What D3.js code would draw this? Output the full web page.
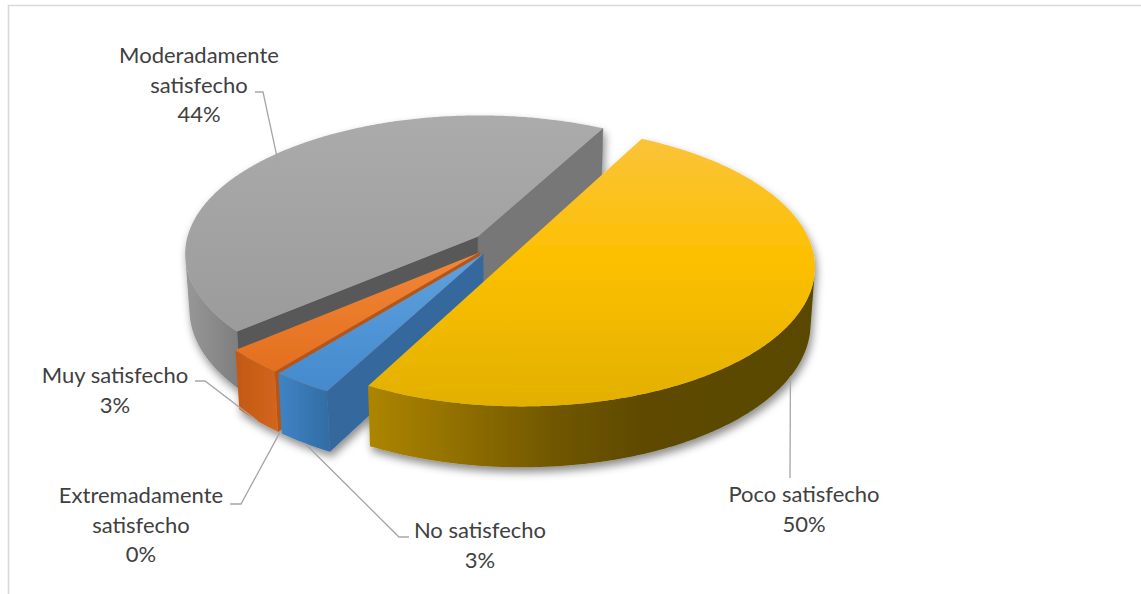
<!DOCTYPE html>
<html>
<head>
<meta charset="utf-8">
<script src="https://cdn.jsdelivr.net/npm/d3@7"></script>
<style>
  html, body { margin: 0; padding: 0; background: #ffffff; }
  svg { display: block; }
</style>
</head>
<body>
<svg id="chart" width="1141" height="594"></svg>
<script>
// ---- data ----
const categories = ["Poco satisfecho", "No satisfecho", "Extremadamente satisfecho", "Muy satisfecho", "Moderadamente satisfecho"];
const values = [50, 3, 0, 3, 44];

// ---- slice styles (same order as categories) ----
const topStops = [
  [[0, "#fac33a"], [0.45, "#fdc000"], [1, "#e2b000"]],
  [[0, "#5fa1dd"], [1, "#438acd"]],
  [[0, "#aaaaaa"], [1, "#999999"]],
  [[0, "#f18737"], [1, "#e36f1f"]],
  [[0, "#ababab"], [1, "#9b9b9b"]]
];
const sideStops = [
  [[0, "#ad8500"], [0.2, "#917000"], [0.42, "#705600"], [0.62, "#5e4a00"], [1, "#5a4700"]],
  [[0, "#3f84c5"], [1, "#316ca4"]],
  [[0, "#888888"], [1, "#777777"]],
  [[0, "#c35813"], [1, "#d3661d"]],
  [[0, "#989898"], [1, "#7d7d7d"]]
];
const cutStartColors = ["#8a6a00", "#34689c", "#666666", "#b4561a", "#585858"];
const cutEndColors   = ["#8a6a00", "#34689c", "#666666", "#b4561a", "#777777"];

// ---- 3D view ----
const view = {
  cx: 497, cy: 244,          // screen position of pie centre
  R: 292, H: 64,             // radius and thickness
  alpha: 28 * Math.PI / 180, // elevation
  D: 2200,                   // perspective distance
  explode: 25,
  start: 28 * Math.PI / 180  // first slice angle
};

// ---- labels (layout) ----
const labelLayout = [
  { x: 804, y: 502, leader: [[790, 478]], edge: "bottom", r: 1 },
  { x: 480, y: 538, leader: [[409, 537], [399, 537]], edge: "bottom", r: 1 },
  { x: 141, y: 503, leader: [[230, 504], [241, 504]], edge: "bottom", r: 1 },
  { x: 115, y: 383, leader: [[195, 381], [205, 381]], edge: "bottom", r: 1 },
  { x: 199, y: 63,  leader: [[255, 92], [263, 92]], edge: "top", r: 0.95 }
];
const lineStep = 29.5;

const svg = d3.select("#chart");
const defs = svg.append("defs");

// frame
svg.append("path")
  .attr("d", "M8.5,600 L8.5,5.5 L1150,5.5")
  .attr("fill", "none").attr("stroke", "#d9d9d9").attr("stroke-width", 1.6);

const shadow = defs.append("filter").attr("id", "shadow")
  .attr("x", "-10%").attr("y", "-10%").attr("width", "120%").attr("height", "130%");
shadow.append("feDropShadow")
  .attr("dx", 2).attr("dy", 5).attr("stdDeviation", 4)
  .attr("flood-color", "#000").attr("flood-opacity", 0.45);

const sa = Math.sin(view.alpha), ca = Math.cos(view.alpha);
const cam = [0, view.D * sa, view.D * ca];

function project(p) {
  const [X, Y, Z] = p;
  const yc = Y * ca - Z * sa;
  const d = Y * sa + Z * ca;
  const s = view.D / (view.D - d);
  return [view.cx + X * s, view.cy - yc * s];
}
function depth(p) { return p[1] * sa + p[2] * ca; }

const pie = d3.pie().sort(null).value(d => d)
  .startAngle(view.start).endAngle(view.start + 2 * Math.PI);
const arcs = pie(values);

function offsetOf(a) {
  const m = (a.startAngle + a.endAngle) / 2;
  return [view.explode * Math.sin(m), -view.explode * Math.cos(m)];
}
function rim(a, theta, Y, r) {
  const [ox, oz] = offsetOf(a);
  const rr = r === undefined ? view.R : r;
  return [ox + rr * Math.sin(theta), Y, oz - rr * Math.cos(theta)];
}
function visible(n, p) {
  return n[0] * (cam[0] - p[0]) + n[1] * (cam[1] - p[1]) + n[2] * (cam[2] - p[2]) > 0;
}
function centroid(pts) {
  const c = [0, 0, 0];
  pts.forEach(p => { c[0] += p[0]; c[1] += p[1]; c[2] += p[2]; });
  return c.map(v => v / pts.length);
}
function gradient(id, stops, horizontal) {
  const g = defs.append("linearGradient").attr("id", id)
    .attr("x1", 0).attr("y1", 0)
    .attr("x2", horizontal ? 1 : 0).attr("y2", horizontal ? 0 : 1);
  stops.forEach(s => g.append("stop").attr("offset", s[0]).attr("stop-color", s[1]));
  return "url(#" + id + ")";
}

const sides = [];
const tops = [];
const step = 0.5 * Math.PI / 180;

arcs.forEach((a, i) => {
  if (a.endAngle - a.startAngle <= 0) return;
  const [ox, oz] = offsetOf(a);
  const apexTop = [ox, 0, oz], apexBot = [ox, -view.H, oz];
  const n = Math.max(2, Math.ceil((a.endAngle - a.startAngle) / step));
  const thetas = d3.range(n + 1).map(k => a.startAngle + (a.endAngle - a.startAngle) * k / n);

  // top face
  tops.push({ pts: [apexTop].concat(thetas.map(t => rim(a, t, 0))),
              fill: gradient("top" + i, topStops[i], false) });

  // curved outer wall: front-facing run of the rim
  const vis = thetas.map(t => visible([Math.sin(t), 0, -Math.cos(t)], rim(a, t, -view.H / 2)));
  const first = vis.indexOf(true), last = vis.lastIndexOf(true);
  if (first >= 0) {
    const run = thetas.slice(first, last + 1);
    const pts = run.map(t => rim(a, t, 0)).concat(run.slice().reverse().map(t => rim(a, t, -view.H)));
    const mid = run[Math.floor(run.length / 2)];
    sides.push({ pts, depth: depth(rim(a, mid, -view.H / 2)),
                 fill: gradient("side" + i, sideStops[i], true) });
  }

  // radial cut faces
  const s0 = a.startAngle, s1 = a.endAngle;
  const startFace = [apexTop, rim(a, s0, 0), rim(a, s0, -view.H), apexBot];
  const endFace = [apexTop, rim(a, s1, 0), rim(a, s1, -view.H), apexBot];
  const cS = centroid(startFace), cE = centroid(endFace);
  if (visible([-Math.cos(s0), 0, -Math.sin(s0)], cS))
    sides.push({ pts: startFace, depth: depth(cS), fill: cutStartColors[i] });
  if (visible([Math.cos(s1), 0, Math.sin(s1)], cE))
    sides.push({ pts: endFace, depth: depth(cE), fill: cutEndColors[i] });
});

sides.sort((p, q) => p.depth - q.depth);

const pieG = svg.append("g").attr("filter", "url(#shadow)");
const line = d3.line();
pieG.selectAll("path.side").data(sides).join("path")
  .attr("class", "side")
  .attr("d", d => line(d.pts.map(project)) + "Z")
  .attr("fill", d => d.fill)
  .attr("stroke", d => d.fill.startsWith("url") ? "none" : d.fill)
  .attr("stroke-width", 0.5);
pieG.selectAll("path.top").data(tops).join("path")
  .attr("class", "top")
  .attr("d", d => line(d.pts.map(project)) + "Z")
  .attr("fill", d => d.fill);

// ---- data labels with leader lines ----
const total = d3.sum(values);
const pct = d3.format(".0%");
const labelG = svg.append("g");

arcs.forEach((a, i) => {
  const L = labelLayout[i];
  const mid = (a.startAngle + a.endAngle) / 2;
  const anchor = project(rim(a, mid, L.edge === "top" ? 0 : -view.H, view.R * L.r));
  const pts = L.leader.concat([anchor]);
  labelG.append("path")
    .attr("d", line(pts))
    .attr("fill", "none").attr("stroke", "#a6a6a6").attr("stroke-width", 1.3);

  const name = categories[i];
  const lines = (name.length > 16 ? name.split(" ") : [name]).concat([pct(values[i] / total)]);
  const t = labelG.append("text")
    .attr("text-anchor", "middle")
    .attr("font-family", "Lato, 'Open Sans', sans-serif")
    .attr("font-size", 22)
    .attr("fill", "#404040");
  lines.forEach((s, k) => t.append("tspan").attr("x", L.x).attr("y", L.y + k * lineStep).text(s));
});
</script>
</body>
</html>
